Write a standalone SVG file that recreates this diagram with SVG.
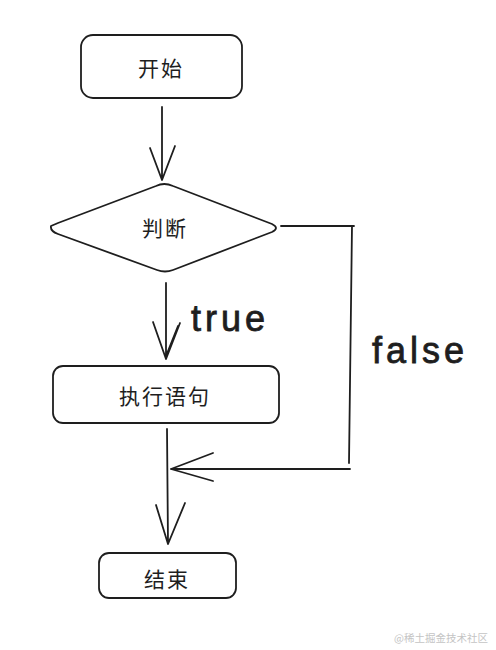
<svg xmlns="http://www.w3.org/2000/svg" width="496" height="650" viewBox="0 0 496 650">
<defs>
<style>
.box{fill:none;stroke:#1e1e1e;stroke-width:1.8;stroke-linecap:round;stroke-linejoin:round}
.ln{fill:none;stroke:#1e1e1e;stroke-width:1.8;stroke-linecap:round;stroke-linejoin:round}
.cjk{font-family:"Noto Sans CJK SC","Noto Sans",sans-serif;font-size:21px;fill:#1e1e1e;text-anchor:middle;dominant-baseline:central;letter-spacing:2px}
.lbl{font-family:"Liberation Sans","DejaVu Sans",sans-serif;font-size:36px;fill:#1e1e1e;letter-spacing:4px;stroke:#1e1e1e;stroke-width:0.8}
.wm{font-family:"Noto Sans CJK SC",sans-serif;font-size:10.5px;fill:#c4c4c4;text-anchor:end}
</style>
</defs>
<rect width="496" height="650" fill="#ffffff"/>
<g id="start">
<rect class="box" x="81" y="35" width="161" height="63" rx="12"/>
<text class="cjk" x="161" y="67">开始</text>
</g>
<g id="decision">
<path class="box" d="M51 226 Q50 231 58 234 L157 270 Q165 273 173 270 L272 232 Q280 228 272 224 L173 186 Q164 182 156 186 L58 223 Z"/>
<text class="cjk" x="165" y="227">判断</text>
</g>
<g id="exec">
<rect class="box" x="53" y="366" width="226" height="57" rx="10"/>
<text class="cjk" x="165" y="395">执行语句</text>
</g>
<g id="end">
<rect class="box" x="99" y="553" width="137" height="45" rx="10"/>
<text class="cjk" x="167" y="578">结束</text>
</g>
<g id="connectors">
<path class="ln" d="M162 107 L162 180 M150 148 L162 180 L175 146"/>
<path class="ln" d="M166 283 L166 359 M153 322 L166 359 L180 323 M178 326 L166 356"/>
<path class="ln" d="M281 226 L354 226 M352 226 L349 463 M350 469 L171 469 M213 453 L171 469 L213 481"/>
<path class="ln" d="M167 429 L168 544 M156 505 L168 544 L185 503"/>
</g>
<g id="labels">
<text class="lbl" x="191" y="331">true</text>
<text class="lbl" x="372" y="363">false</text>
</g>
<text class="wm" x="488" y="642">@稀土掘金技术社区</text>
</svg>
